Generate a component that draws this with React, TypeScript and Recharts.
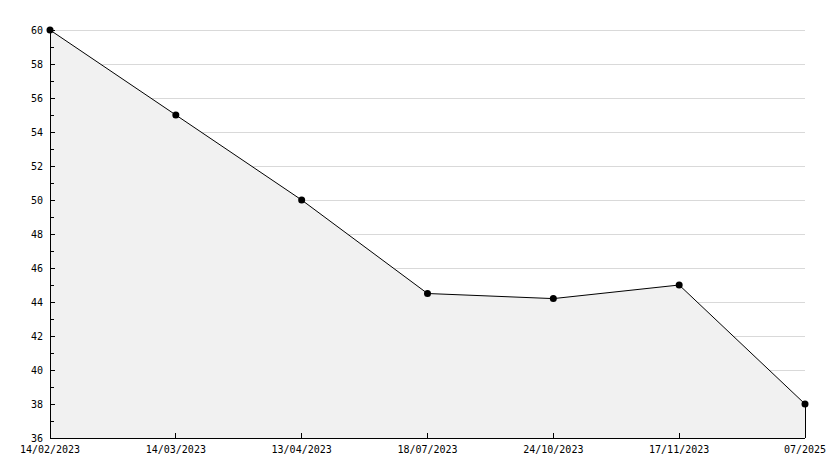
import React from 'react';
import { ComposedChart, Area, XAxis, YAxis, CartesianGrid, ReferenceLine } from 'recharts';

const dates = ['14/02/2023', '14/03/2023', '13/04/2023', '18/07/2023', '24/10/2023', '17/11/2023', '07/2025'];
const values = [60, 55, 50, 44.5, 44.2, 45, 38];
const yTicks = [36, 37, 38, 39, 40, 41, 42, 43, 44, 45, 46, 47, 48, 49, 50, 51, 52, 53, 54, 55, 56, 57, 58, 59, 60];
const gridValues = [38, 40, 42, 44, 46, 48, 50, 52, 54, 56, 58, 60];
const yMin = 36;
const yMax = 60;

const data = dates.map((d, i) => ({ date: d, value: values[i] }));

const FONT = '"DejaVu Sans Mono", monospace';

const YTick = (props: any) => {
  const { x, y, payload } = props;
  const v = payload.value as number;
  const major = v % 2 === 0;
  return (
    <g>
      <line x1={x} x2={x + (major ? 5 : 4)} y1={y} y2={y} stroke="#000" strokeWidth={1} shapeRendering="crispEdges" />
      {major && (
        <text x={x - 7} y={y + 4} textAnchor="end" fontSize={10} fontFamily={FONT} fill="#000">
          {v}
        </text>
      )}
    </g>
  );
};

const XTick = (props: any) => {
  const { x, y, payload, index } = props;
  const showTick = index > 0 && index < dates.length - 1;
  return (
    <g>
      {showTick && <line x1={x} x2={x} y1={y} y2={y - 5} stroke="#000" strokeWidth={1} shapeRendering="crispEdges" />}
      <text x={x} y={y + 15} textAnchor="middle" fontSize={10} fontFamily={FONT} fill="#000">
        {payload.value}
      </text>
    </g>
  );
};

export default function App() {
  const last = dates[dates.length - 1];
  const lastVal = values[values.length - 1];
  return (
    <div style={{ position: 'absolute', left: 0, top: 0, width: 834, height: 468, background: '#fff' }}>
      <ComposedChart width={834} height={468} data={data} margin={{ top: 30, right: 29, bottom: 10, left: 0 }}>
        <CartesianGrid
          horizontal
          vertical={false}
          horizontalValues={gridValues}
          stroke="#d9d9d9"
          strokeWidth={1}
          shapeRendering="crispEdges"
        />
        <XAxis
          dataKey="date"
          type="category"
          padding={{ left: 0, right: 0 }}
          interval={0}
          tickSize={0}
          tickMargin={0}
          tickLine={false}
          axisLine={{ stroke: '#000', strokeWidth: 1, shapeRendering: 'crispEdges' }}
          tick={<XTick />}
          height={20}
        />
        <YAxis
          type="number"
          domain={[yMin, yMax]}
          ticks={yTicks}
          interval={0}
          width={50}
          tickSize={0}
          tickMargin={0}
          tickLine={false}
          axisLine={{ stroke: '#000', strokeWidth: 1, shapeRendering: 'crispEdges' }}
          tick={<YTick />}
        />
        <Area
          type="linear"
          dataKey="value"
          stroke="#000"
          strokeWidth={1}
          fill="#f1f1f1"
          fillOpacity={1}
          dot={{ r: 3.5, fill: '#000', stroke: '#000', strokeWidth: 0 }}
          activeDot={false}
          isAnimationActive={false}
        />
        <ReferenceLine
          segment={[{ x: last, y: yMin }, { x: last, y: lastVal }]}
          stroke="#000"
          strokeWidth={1}
          shapeRendering="crispEdges"
        />
      </ComposedChart>
    </div>
  );
}
